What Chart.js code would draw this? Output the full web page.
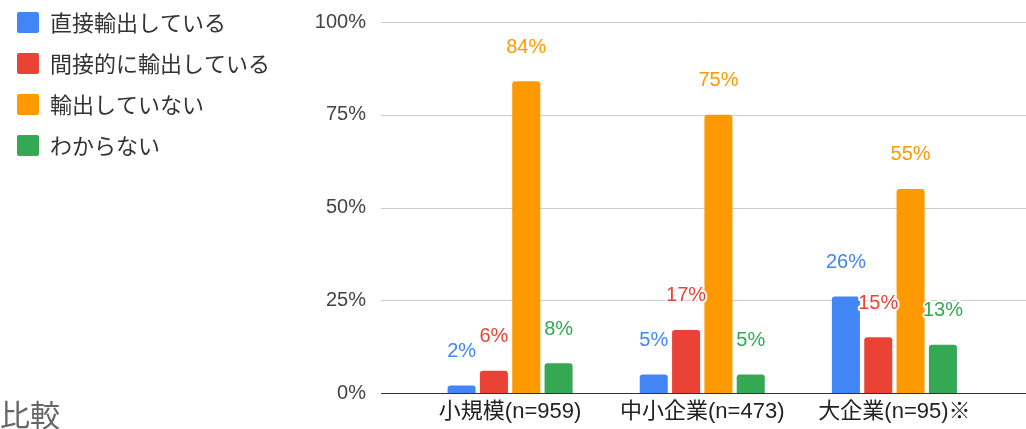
<!DOCTYPE html>
<html>
<head>
<meta charset="utf-8">
<script src="https://cdn.jsdelivr.net/npm/chart.js@4/dist/chart.umd.min.js"></script>
<style>
  html, body { margin: 0; padding: 0; background: #fff; }
</style>
</head>
<body>
<canvas id="exportChart" width="1026" height="429"></canvas>
<script>
// 企業規模別の輸出状況（%）
const categories = ['小規模(n=959)', '中小企業(n=473)', '大企業(n=95)※'];
const seriesNames = ['直接輸出している', '間接的に輸出している', '輸出していない', 'わからない'];
const directExport = [2, 5, 26];
const indirectExport = [6, 17, 15];
const noExport = [84, 75, 55];
const unknown = [8, 5, 13];
const yTicks = [0, 25, 50, 75, 100];

const colors = ['#4285f4', '#ea4335', '#ff9900', '#34a853'];
const seriesValues = [directExport, indirectExport, noExport, unknown];

const latinFont = '"Liberation Sans", Arial, "Noto Sans CJK JP", sans-serif';

// horizontal grid lines run past the plot area on both sides
const gridLines = {
  id: 'gridLines',
  beforeDatasetsDraw(chart) {
    const {ctx, scales: {y}, chartArea} = chart;
    ctx.save();
    ctx.lineWidth = 1;
    ctx.strokeStyle = '#cccccc';
    y.ticks.forEach(t => {
      if (t.value === 0) return;
      const py = Math.round(y.getPixelForValue(t.value)) + 0.5;
      ctx.beginPath();
      ctx.moveTo(chartArea.left - 33, py);
      ctx.lineTo(chart.width, py);
      ctx.stroke();
    });
    ctx.restore();
  },
  afterDatasetsDraw(chart) {
    const {ctx, scales: {y}, chartArea} = chart;
    const py = Math.round(y.getPixelForValue(0)) + 0.5;
    ctx.save();
    ctx.lineWidth = 1;
    ctx.strokeStyle = '#333333';
    ctx.beginPath();
    ctx.moveTo(chartArea.left - 33, py);
    ctx.lineTo(chart.width, py);
    ctx.stroke();
    ctx.restore();
  }
};

// value labels above each bar, with a white halo
const valueLabels = {
  id: 'valueLabels',
  afterDatasetsDraw(chart) {
    const {ctx} = chart;
    ctx.save();
    ctx.font = '20px ' + latinFont;
    ctx.textAlign = 'center';
    ctx.textBaseline = 'middle';
    ctx.lineJoin = 'round';
    ctx.lineWidth = 4;
    ctx.strokeStyle = '#ffffff';
    chart.data.datasets.forEach((ds, i) => {
      chart.getDatasetMeta(i).data.forEach((bar, j) => {
        const text = ds.data[j] + '%';
        ctx.strokeText(text, bar.x, bar.y - 34);
        ctx.fillStyle = ds.backgroundColor;
        ctx.fillText(text, bar.x, bar.y - 34);
      });
    });
    ctx.restore();
  }
};

// legend sits higher than the plot top
const legendOffset = {
  id: 'legendOffset',
  afterLayout(chart) {
    chart.legend.top -= 29.5;
    chart.legend.bottom -= 29.5;
  }
};

// leftover caption in the lower-left corner
const caption = {
  id: 'caption',
  afterDraw(chart) {
    const {ctx} = chart;
    ctx.save();
    ctx.font = '30px "Noto Sans CJK JP", sans-serif';
    ctx.fillStyle = '#666666';
    ctx.textAlign = 'left';
    ctx.textBaseline = 'alphabetic';
    ctx.fillText('比較', 0, 426);
    ctx.restore();
  }
};

new Chart(document.getElementById('exportChart'), {
  type: 'bar',
  data: {
    labels: categories,
    datasets: seriesNames.map((name, i) => ({
      label: name,
      data: seriesValues[i],
      backgroundColor: colors[i],
      borderWidth: 0,
      borderRadius: {topLeft: 3, topRight: 3},
      borderSkipped: 'bottom',
      categoryPercentage: 0.673,
      barPercentage: 0.867
    }))
  },
  options: {
    responsive: false,
    animation: false,
    layout: {
      padding: {top: 22, right: 35.5, bottom: 0, left: -2}
    },
    plugins: {
      legend: {
        position: 'left',
        align: 'start',
        maxWidth: 320,
        labels: {
          boxWidth: 22,
          boxHeight: 21,
          padding: 19,
          color: '#333333',
          useBorderRadius: true,
          borderRadius: 2,
          font: {size: 22, family: '"Noto Sans CJK JP", sans-serif'}
        }
      },
      tooltip: {enabled: false}
    },
    scales: {
      x: {
        grid: {display: false, drawTicks: false},
        border: {display: false},
        ticks: {
          color: '#222222',
          padding: 6,
          font: {size: 22, family: latinFont}
        },
        afterFit(scale) { scale.height = 36; }
      },
      y: {
        min: 0,
        max: 100,
        afterBuildTicks(scale) { scale.ticks = yTicks.map(v => ({value: v})); },
        grid: {display: false, drawTicks: true, tickLength: 48},
        border: {display: false},
        ticks: {
          color: '#444444',
          padding: 0,
          font: {size: 20, family: latinFont},
          callback: v => v + '%'
        },
        afterFit(scale) { scale.width = 416 - scale.chart.legend.width; }
      }
    }
  },
  plugins: [gridLines, valueLabels, legendOffset, caption]
});
</script>
</body>
</html>
